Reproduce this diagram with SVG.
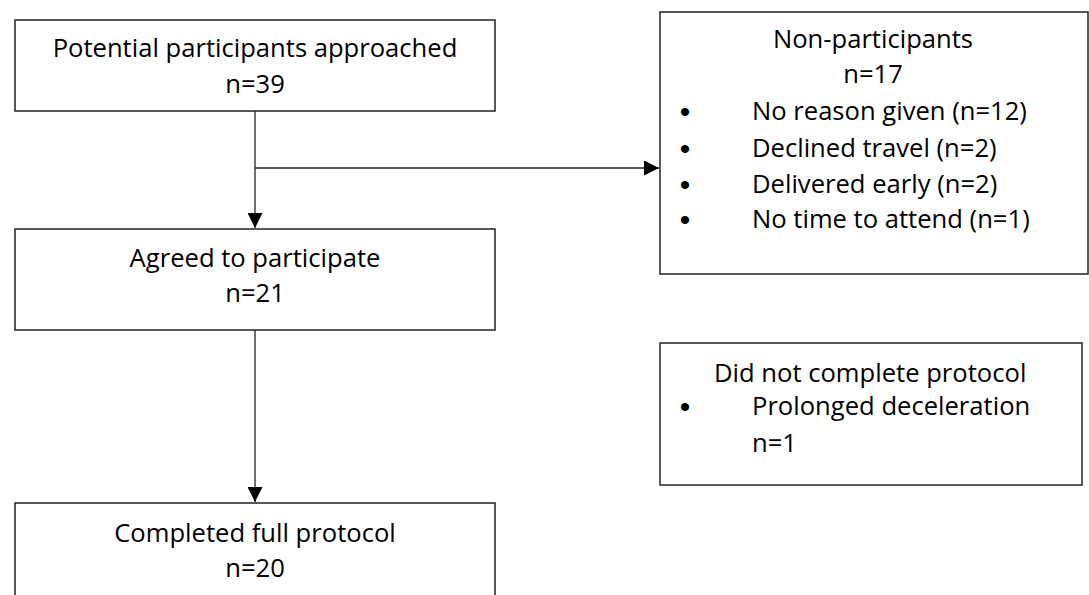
<svg xmlns="http://www.w3.org/2000/svg" width="1089" height="595" viewBox="0 0 1089 595">
<style>
.box{fill:#fff;stroke:#222;stroke-width:1.5}
.t{font-family:"Open Sans","Liberation Sans",sans-serif;font-size:25.6px;fill:#000}
.c{text-anchor:middle}
.b{font-family:"Liberation Sans",sans-serif;font-size:30px;fill:#000;text-anchor:middle}
.ln{fill:none;stroke:#222;stroke-width:1.3}
</style>
<defs>
<marker id="ah" markerWidth="16" markerHeight="15" refX="15" refY="7.5" orient="auto" markerUnits="userSpaceOnUse">
<path d="M0,0 L15,7.5 L0,15 Z" fill="#000"/>
</marker>
</defs>
<rect width="1089" height="595" fill="#fff"/>
<g id="connectors">
<path class="ln" d="M255,111 V228" marker-end="url(#ah)"/>
<path class="ln" d="M255,168 H659" marker-end="url(#ah)"/>
<path class="ln" d="M255,330 V502" marker-end="url(#ah)"/>
</g>
<g id="approached">
<rect class="box" x="15" y="20" width="480" height="91"/>
<text class="t c" x="255" y="57">Potential participants approached</text>
<text class="t c" x="255" y="93">n=39</text>
</g>
<g id="agreed">
<rect class="box" x="15" y="229" width="480" height="101"/>
<text class="t c" x="255" y="267">Agreed to participate</text>
<text class="t c" x="255" y="302">n=21</text>
</g>
<g id="completed">
<rect class="box" x="15" y="503" width="480" height="110"/>
<text class="t c" x="255" y="542">Completed full protocol</text>
<text class="t c" x="255" y="577">n=20</text>
</g>
<g id="nonparticipants">
<rect class="box" x="660" y="12" width="428" height="262"/>
<text class="t c" x="873" y="48">Non-participants</text>
<text class="t c" x="873" y="83">n=17</text>
<text class="b" x="685" y="122">•</text>
<text class="t" x="752" y="120">No reason given (n=12)</text>
<text class="b" x="685" y="159">•</text>
<text class="t" x="752" y="157">Declined travel (n=2)</text>
<text class="b" x="685" y="195">•</text>
<text class="t" x="752" y="193">Delivered early (n=2)</text>
<text class="b" x="685" y="230">•</text>
<text class="t" x="752" y="228">No time to attend (n=1)</text>
</g>
<g id="didnotcomplete">
<rect class="box" x="660" y="343" width="422" height="142"/>
<text class="t" x="714" y="382">Did not complete protocol</text>
<text class="b" x="685" y="417">•</text>
<text class="t" x="752" y="415">Prolonged deceleration</text>
<text class="t" x="752" y="452">n=1</text>
</g>
</svg>
